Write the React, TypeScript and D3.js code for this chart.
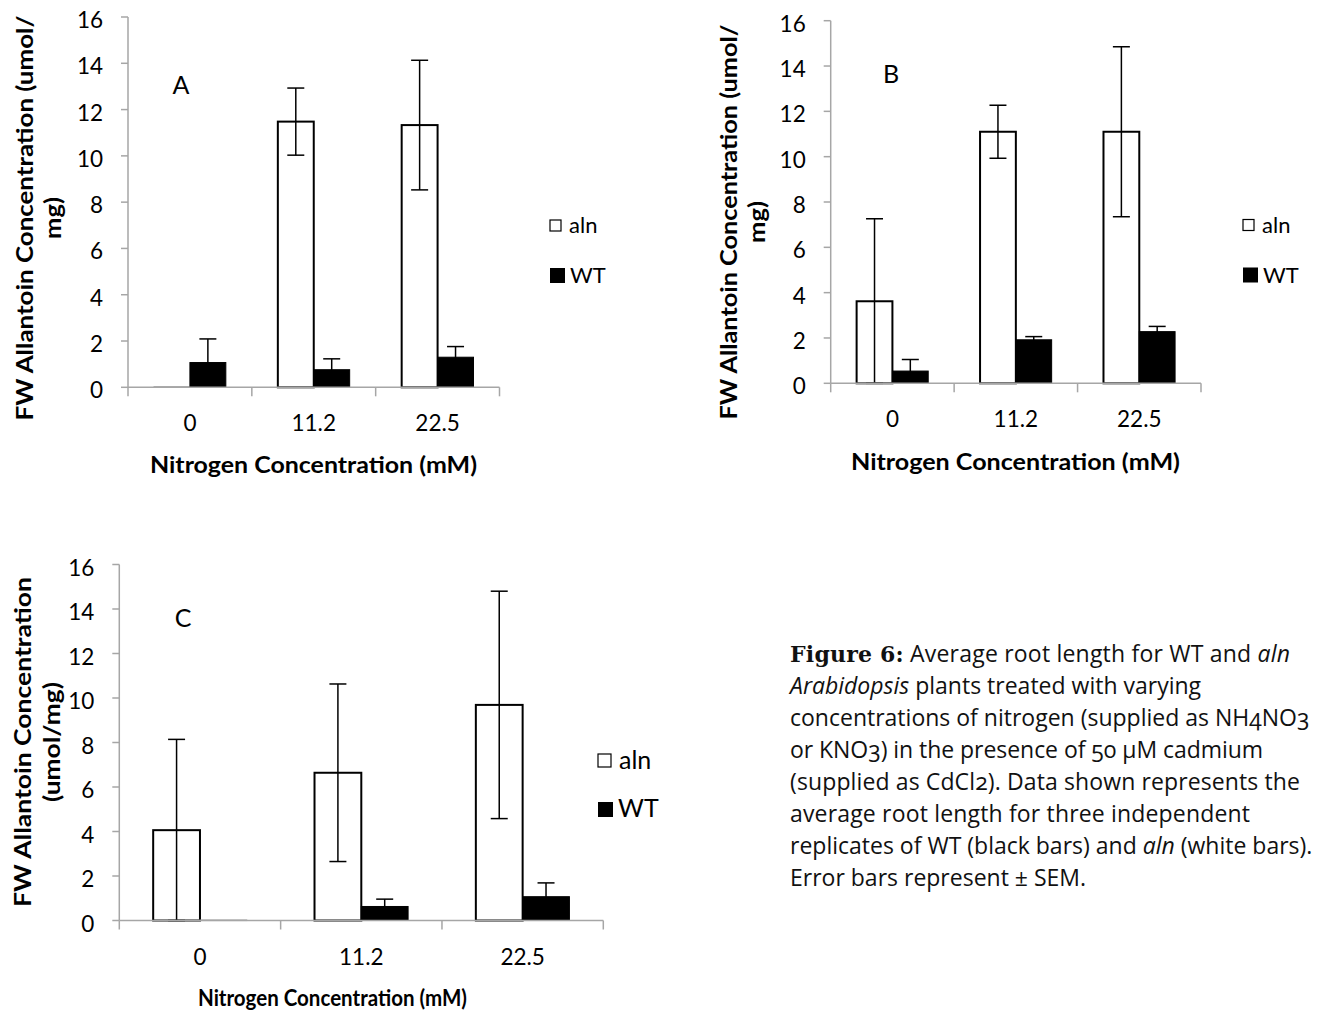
import React from "react";
import * as d3 from "d3";

const categories = ["0", "11.2", "22.5"];
const seriesNames = ["aln", "WT"];
const yTickValues = [0, 2, 4, 6, 8, 10, 12, 14, 16];

// Panel A
const alnA = [0.02, 11.48, 11.33];
const alnErrA = [0, 1.45, 2.8];
const wtA = [1.07, 0.76, 1.3];
const wtErrA = [1.02, 0.47, 0.46];

// Panel B
const alnB = [3.62, 11.1, 11.1];
const alnErrB = [3.64, 1.17, 3.75];
const wtB = [0.54, 1.92, 2.28];
const wtErrB = [0.51, 0.14, 0.23];

// Panel C
const alnC = [4.06, 6.64, 9.69];
const alnErrC = [4.08, 3.99, 5.11];
const wtC = [0.02, 0.63, 1.07];
const wtErrC = [0, 0.33, 0.62];

const xTitle = "Nitrogen Concentration (mM)";
const yTitleAB = ["FW Allantoin Concentration (umol/", "mg)"];
const yTitleC = ["FW Allantoin Concentration", "(umol/mg)"];

const FONT = "Lato, 'Open Sans', sans-serif";
const AXIS = "#a6a6a6";

const layouts = [
  {
    label: "A", x0: 128, x1: 499.5, yTop: 17, yBot: 387.3,
    labelX: 181, labelY: 94,
    legX: 550, legY: 220, legFont: 22, legBox: 11, legBoxW: 15,
    xTitleX: 313.5, xTitleY: 473, xTitleLen: 327,
    yTitle: yTitleAB, yT1x: 33, yT2x: 61, yTcy: 218, yT1len: 405, yT2len: 42,
    data: [alnA, alnErrA, wtA, wtErrA],
  },
  {
    label: "B", x0: 830.7, x1: 1201, yTop: 20.7, yBot: 383.3,
    labelX: 891, labelY: 83,
    legX: 1243, legY: 219.5, legFont: 22, legBox: 11, legBoxW: 15,
    xTitleX: 1015.5, xTitleY: 470, xTitleLen: 329,
    yTitle: yTitleAB, yT1x: 737, yT2x: 765, yTcy: 222, yT1len: 395, yT2len: 42,
    data: [alnB, alnErrB, wtB, wtErrB],
  },
  {
    label: "C", x0: 119.3, x1: 603.3, yTop: 564.5, yBot: 920.5,
    labelX: 183, labelY: 627,
    legX: 598, legY: 754, legFont: 25, legBox: 13, legBoxW: 15,
    xTitleX: 332.5, xTitleY: 1006, xTitleLen: 269,
    yTitle: yTitleC, yT1x: 31, yT2x: 60, yTcy: 742, yT1len: 330, yT2len: 120,
    data: [alnC, alnErrC, wtC, wtErrC],
  },
];

function Panel({ cfg }: { cfg: any }) {
  const [aln, alnErr, wt, wtErr] = cfg.data;
  const x = d3.scaleBand<string>().domain(categories).range([cfg.x0, cfg.x1]);
  const bw = x.bandwidth();
  const gap = bw * 0.21;
  const xs = d3.scaleBand<string>().domain(seriesNames).range([0, bw - 2 * gap]);
  const y = d3.scaleLinear().domain([0, 16]).range([cfg.yBot, cfg.yTop]);
  const capW = 17;

  const bars = categories.flatMap((c, i) => [
    { c, s: "aln", v: aln[i], e: alnErr[i] },
    { c, s: "WT", v: wt[i], e: wtErr[i] },
  ]);

  const boundaries = d3.range(categories.length + 1).map((k) => cfg.x0 + k * bw);

  return (
    <g>
      <line x1={cfg.x0} x2={cfg.x0} y1={cfg.yTop} y2={cfg.yBot} stroke={AXIS} strokeWidth={1.5} />
      {yTickValues.map((t) => (
        <g key={t}>
          <line x1={cfg.x0 - 7} x2={cfg.x0} y1={y(t)} y2={y(t)} stroke={AXIS} strokeWidth={1.5} />
          <text x={cfg.x0 - 25} y={y(t) + 11} textAnchor="end" fontSize={22.5} fontFamily={FONT} fill="#000">
            {t}
          </text>
        </g>
      ))}
      {bars.map((b, i) => {
        const bx = (x(b.c) as number) + gap + (xs(b.s) as number);
        const w = xs.bandwidth();
        const top = y(b.v);
        const tiny = b.v < 0.1;
        return (
          <rect
            key={i}
            x={bx}
            y={top}
            width={w}
            height={Math.max(0.5, cfg.yBot - top)}
            fill={b.s === "aln" ? "#fff" : "#000"}
            stroke={tiny ? "#888" : "#000"}
            strokeWidth={tiny ? 1 : b.s === "aln" ? 2 : 1}
          />
        );
      })}
      {bars.filter((b) => b.e > 0).map((b, i) => {
        const bx = (x(b.c) as number) + gap + (xs(b.s) as number) + xs.bandwidth() / 2;
        const yu = y(b.v + b.e);
        const yl = y(Math.max(0, b.v - b.e));
        return (
          <g key={"e" + i} stroke="#000" strokeWidth={1.5}>
            <line x1={bx} x2={bx} y1={yu} y2={yl} />
            <line x1={bx - capW / 2} x2={bx + capW / 2} y1={yu} y2={yu} />
            <line x1={bx - capW / 2} x2={bx + capW / 2} y1={yl} y2={yl} />
          </g>
        );
      })}
      <line x1={cfg.x0} x2={cfg.x1} y1={cfg.yBot} y2={cfg.yBot} stroke={AXIS} strokeWidth={1.5} />
      {boundaries.map((bx, k) => (
        <line key={k} x1={bx} x2={bx} y1={cfg.yBot} y2={cfg.yBot + 9} stroke={AXIS} strokeWidth={1.5} />
      ))}
      {categories.map((c) => (
        <text
          key={c}
          x={(x(c) as number) + bw / 2}
          y={cfg.yBot + 44}
          textAnchor="middle"
          fontSize={22.5}
          fontFamily={FONT}
          fill="#000"
        >
          {c}
        </text>
      ))}
      <text x={cfg.labelX} y={cfg.labelY} textAnchor="middle" fontSize={25} fontFamily={FONT} fill="#000">
        {cfg.label}
      </text>
      <rect x={cfg.legX} y={cfg.legY} width={cfg.legBox} height={cfg.legBox} fill="#fff" stroke="#000" strokeWidth={1.2} />
      <text x={cfg.legX + cfg.legBox + 8} y={cfg.legY + cfg.legBox + 2} fontSize={cfg.legFont} fontFamily={FONT} fill="#000">
        {seriesNames[0]}
      </text>
      <rect x={cfg.legX} y={cfg.legY + 48} width={cfg.legBoxW} height={cfg.legBoxW} fill="#000" />
      <text x={cfg.legX + cfg.legBoxW + 5} y={cfg.legY + 48 + cfg.legBoxW} fontSize={cfg.legFont} fontFamily={FONT} fill="#000">
        {seriesNames[1]}
      </text>
      <text
        x={cfg.xTitleX}
        y={cfg.xTitleY}
        textAnchor="middle"
        fontSize={22}
        fontWeight="bold"
        fontFamily={FONT}
        fill="#000"
        textLength={cfg.xTitleLen}
        lengthAdjust="spacingAndGlyphs"
      >
        {xTitle}
      </text>
      <text
        transform={`translate(${cfg.yT1x},${cfg.yTcy}) rotate(-90)`}
        textAnchor="middle"
        fontSize={22.5}
        fontWeight="bold"
        fontFamily={FONT}
        fill="#000"
        textLength={cfg.yT1len}
        lengthAdjust="spacingAndGlyphs"
      >
        {cfg.yTitle[0]}
      </text>
      <text
        transform={`translate(${cfg.yT2x},${cfg.yTcy}) rotate(-90)`}
        textAnchor="middle"
        fontSize={22.5}
        fontWeight="bold"
        fontFamily={FONT}
        fill="#000"
        textLength={cfg.yT2len}
        lengthAdjust="spacingAndGlyphs"
      >
        {cfg.yTitle[1]}
      </text>
    </g>
  );
}

const CAP_FONT = "'Open Sans', Lato, sans-serif";

function Caption() {
  const x0 = 790;
  const base = 662;
  const lh = 32;
  const common = {
    fontSize: 23,
    fontFamily: CAP_FONT,
    fill: "#111",
    style: { fontVariantNumeric: "oldstyle-nums" },
  };
  return (
    <g>
      <text x={x0} y={base} {...common} textLength={500} lengthAdjust="spacing">
        <tspan fontFamily="'DejaVu Serif', serif" fontWeight="bold" fontSize={22}>Figure 6:</tspan>
        <tspan> Average root length for WT and </tspan>
        <tspan fontStyle="italic">aln</tspan>
      </text>
      <text x={x0} y={base + lh} {...common}>
        <tspan fontStyle="italic">Arabidopsis</tspan>
        <tspan> plants treated with varying</tspan>
      </text>
      <text x={x0} y={base + 2 * lh} {...common}>
        concentrations of nitrogen (supplied as NH4NO3
      </text>
      <text x={x0} y={base + 3 * lh} {...common} textLength={473} lengthAdjust="spacing">
        or KNO3) in the presence of 50 µM cadmium
      </text>
      <text x={x0} y={base + 4 * lh} {...common} textLength={510} lengthAdjust="spacing">
        (supplied as CdCl2). Data shown represents the
      </text>
      <text x={x0} y={base + 5 * lh} {...common} textLength={460} lengthAdjust="spacing">
        average root length for three independent
      </text>
      <text x={x0} y={base + 6 * lh} {...common}>
        <tspan>replicates of WT (black bars) and </tspan>
        <tspan fontStyle="italic">aln</tspan>
        <tspan> (white bars).</tspan>
      </text>
      <text x={x0} y={base + 7 * lh} {...common}>
        Error bars represent ± SEM.
      </text>
    </g>
  );
}

export default function App() {
  return (
    <svg
      width={1318}
      height={1013}
      style={{ position: "absolute", left: 0, top: 0, background: "#fff" }}
    >
      <rect x={0} y={0} width={1318} height={1013} fill="#fff" />
      {layouts.map((cfg) => (
        <Panel key={cfg.label} cfg={cfg} />
      ))}
      <Caption />
    </svg>
  );
}
